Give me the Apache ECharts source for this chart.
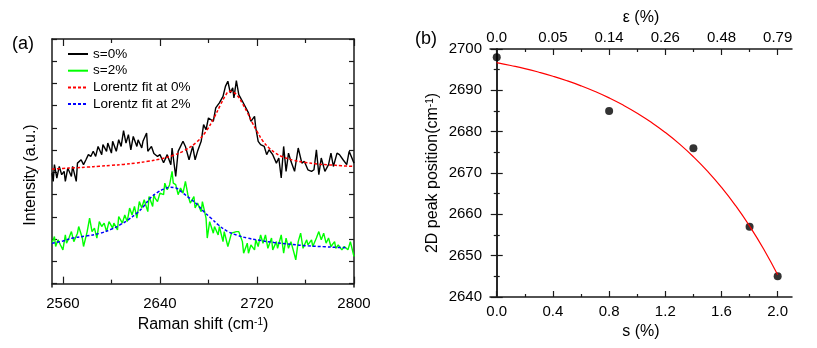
<!DOCTYPE html>
<html><head><meta charset="utf-8">
<script src="https://cdn.jsdelivr.net/npm/echarts@6/dist/echarts.min.js"></script>
<style>html,body{margin:0;padding:0;background:#fff}#c{width:817px;height:348px}</style>
</head><body><div id="c"></div>
<script>
// ---------- Panel (a): Raman spectra ----------
const ramanX0 = [2551,2552,2553,2555,2557,2559,2561,2562,2564,2567,2568,2571,2572,2575,2577,2579,2581,2583,2585,2587,2589,2592,2593,2596,2597,2600,2601,2604,2606,2608,2610,2612,2614,2616,2618,2621,2622,2625,2626,2629,2630,2633,2635,2638,2640,2643,2646,2649,2650,2653,2655,2659,2661,2664,2667,2669,2671,2674,2676,2678,2680,2684,2686,2689,2692,2694,2696,2698,2700,2701,2703,2705,2708,2709,2713,2715,2718,2719,2721,2723,2726,2728,2730,2733,2736,2738,2740,2742,2744,2746,2748,2751,2754,2757,2759,2762,2765,2767,2769,2771,2773,2776,2779,2781,2783,2786,2788,2791,2794,2796,2800];
const intensity0 = [4.97,4.6,5.35,4.75,5.27,4.9,5.05,4.6,5.2,4.82,5.27,4.6,5.42,5.57,5.35,5.57,5.8,5.72,5.95,5.72,6.17,5.8,6.25,5.95,6.32,5.87,6.4,5.95,6.47,6.17,6.88,6.32,6.7,6.02,6.62,6.17,6.47,6.1,6.4,6.77,5.95,6.17,5.85,5.72,5.8,5.44,5.8,5.35,6.1,4.82,5.95,6.4,6.17,5.57,6.17,5.57,5.95,6.4,7.15,6.92,7.45,7.3,7.9,8.13,8.42,8.87,9.1,8.58,8.8,8.35,9.13,8.5,8.2,8.27,7.68,7.3,7.52,7.0,6.4,6.25,6.17,5.8,6.02,5.8,5.42,5.65,4.75,6.17,5.05,5.87,5.5,5.05,6.1,5.42,5.5,5.12,5.05,5.12,6.02,4.9,5.65,5.05,5.35,5.87,5.27,5.87,5.8,5.57,5.35,5.95,5.42];

const ramanX2 = [2551,2553,2554,2556,2558,2560,2562,2563,2565,2567,2569,2572,2573,2576,2577,2580,2582,2584,2586,2588,2590,2592,2594,2596,2598,2601,2602,2605,2606,2609,2611,2613,2615,2617,2619,2621,2623,2625,2627,2630,2631,2634,2635,
  2636,2638,2640,2643,2644,2646,2648,2650,2651,2653,2655,2657,2659,2661,2663,2665,2668,2669,2671,2674,2675,2678,2679,2681,2684,2685,2688,2689,2692,2693,2696,2699,2703,2705,2708,2709,2712,2713,
  2715,2718,2719,2721,2723,2725,2727,2729,2732,2733,2736,2737,2740,2742,2744,2746,2748,2751,2752,2754,2756,2758,2761,2762,2765,2766,2769,2771,2773,2775,2777,2779,2781,2784,2785,2787,2790,2792,2795,2797,2800];
const intensity2 = [1.82,2.12,1.67,1.97,1.74,1.52,2.19,1.82,2.05,2.34,1.89,2.27,2.57,2.05,1.67,2.34,2.95,2.34,2.5,2.05,2.79,2.57,2.72,2.34,2.79,2.5,2.72,2.42,3.02,2.72,3.09,2.79,3.4,3.09,3.47,2.95,3.69,3.4,3.77,3.24,3.92,3.47,4.0,
  3.85,3.69,4.07,4.0,4.52,4.22,4.45,5.05,4.52,4.45,4.0,4.3,4.07,4.6,4.0,3.62,3.92,3.4,3.62,3.24,3.69,2.95,2.05,2.79,2.27,2.57,2.19,2.57,1.89,2.34,1.67,2.27,2.34,2.34,1.89,1.37,1.82,1.37,
  1.74,1.52,1.97,1.67,2.19,1.82,2.19,1.59,2.05,1.52,1.89,1.59,2.19,1.37,2.05,1.59,1.89,1.29,1.07,1.89,2.27,1.59,1.97,1.74,1.97,1.67,2.05,2.34,1.97,2.27,1.82,2.05,1.67,1.89,1.59,1.74,1.52,1.67,1.52,1.89,1.22];

const fitX0 = [2551,2560,2570,2580,2590,2600,2610,2620,2630,2640,2650,2660,2670,2678,2685,2690,2694,2697,2700,2704,2708,2712,2716,2720,2725,2730,2735,2740,2750,2760,2770,2780,2790,2800];
const fit0  = [5.15,5.18,5.21,5.24,5.28,5.32,5.36,5.42,5.50,5.60,5.75,5.98,6.35,6.85,7.5,8.05,8.45,8.65,8.62,8.45,8.1,7.7,7.25,6.85,6.4,6.1,5.88,5.73,5.55,5.45,5.38,5.34,5.3,5.27];

const fitX2 = [2551,2560,2568,2580,2591,2600,2607,2614,2621,2627,2632,2638,2643,2648,2652,2655,2659,2665,2671,2676,2682,2688,2696,2704,2712,2722,2734,2748,2762,2776,2786,2793];
const fit2  = [1.82,1.92,2.05,2.15,2.27,2.45,2.64,2.88,3.17,3.5,3.85,4.1,4.25,4.33,4.32,4.25,4.07,3.82,3.55,3.25,2.95,2.65,2.34,2.17,2.05,1.95,1.85,1.77,1.7,1.66,1.63,1.62];

const ramanTicks = [2560,2640,2720,2800];
const ramanMinorTicks = [2600,2680,2760];
const intensityTicks = [0,1,2,3,4,5,6,7,8,9,10,11];
const legendNames = ['s=0%','s=2%','Lorentz fit at 0%','Lorentz fit at 2%'];

// ---------- Panel (b): 2D peak position vs strain ----------
const strainS = [0.0,0.8,1.4,1.8,2.0];
const peakPos = [2698,2685,2676,2657,2645];
const fitS   = [0,0.1,0.2,0.3,0.4,0.5,0.6,0.7,0.8,0.9,1.0,1.1,1.2,1.3,1.4,1.5,1.6,1.7,1.8,1.9,2.0];
const fitPos = [2696.7,2696.0,2695.25,2694.38,2693.41,2692.32,2691.09,2689.71,2688.17,2686.43,2684.47,2682.28,2679.82,2677.05,2673.94,2670.45,2666.53,2662.12,2657.17,2651.62,2645.36];
const sTicks = [0,0.4,0.8,1.2,1.6,2.0];
const sMinorTicks = [0.2,0.6,1.0,1.4,1.8];
const epsLabels = ['0.0','0.05','0.14','0.26','0.48','0.79'];

// ---------- chart ----------
const FONT = '"Liberation Sans", Arial, sans-serif';
const AX = '#1a1a1a';
const pairs = (xs, ys) => xs.map((x, i) => [x, ys[i]]);
const supRich = { sup: { fontSize: 10, verticalAlign: 'top', fontFamily: FONT, color: '#000', lineHeight: 10 } };
const nameStyle = { fontSize: 16, fontFamily: FONT, color: '#000', rich: supRich };
const lbl = (extra) => Object.assign({ fontSize: 15, fontFamily: FONT, color: '#000' }, extra);
const line = { lineStyle: { color: AX, width: 1.5 } };

function tickAxis(base, ticks, len, showLine) {
  return Object.assign({
    type: 'value', splitLine: { show: false },
    axisLine: showLine ? line : { show: false },
    axisTick: { show: true, inside: true, length: len, customValues: ticks, lineStyle: { color: AX, width: 1.2 } },
    axisLabel: { show: false }
  }, base);
}

const chart = echarts.init(document.getElementById('c'));
chart.setOption({
  animation: false,
  backgroundColor: '#fff',
  grid: [
    { left: 52, top: 39, width: 302, height: 248, outerBoundsMode: 'none' },
    { left: 490, top: 49, width: 302, height: 248, outerBoundsMode: 'none' }
  ],
  legend: {
    data: legendNames, orient: 'vertical', left: 67, top: 47, padding: 0,
    itemWidth: 20, itemHeight: 14, itemGap: 2.7,
    itemStyle: { color: 'rgba(0,0,0,0)', borderColor: 'rgba(0,0,0,0)', borderWidth: 0, opacity: 0 },
    textStyle: { fontSize: 13.5, fontFamily: FONT, color: '#000' }
  },
  graphic: [
    { type: 'text', left: 12, top: 35, style: { text: '(a)', fontSize: 18, fontFamily: FONT, fill: '#000' } },
    { type: 'text', left: 415, top: 30, style: { text: '(b)', fontSize: 18, fontFamily: FONT, fill: '#000' } },
    { type: 'text', x: 31, y: 175, rotation: Math.PI / 2,
      style: { text: 'Intensity (a.u.)', fontSize: 16, fontFamily: FONT, fill: '#000', align: 'center', verticalAlign: 'middle' } }
  ],
  xAxis: [
    Object.assign(tickAxis({ gridIndex: 0, min: 2551, max: 2800, position: 'bottom',
      name: 'Raman shift (cm{sup|-1})', nameLocation: 'middle', nameGap: 30, nameTextStyle: nameStyle }, ramanTicks, 7, true),
      { axisLabel: lbl({ show: true, customValues: ramanTicks, margin: 9, formatter: v => String(v) }) }),
    tickAxis({ gridIndex: 0, min: 2551, max: 2800, position: 'bottom' }, ramanMinorTicks, 4, false),
    tickAxis({ gridIndex: 0, min: 2551, max: 2800, position: 'top' }, ramanTicks, 7, true),
    tickAxis({ gridIndex: 0, min: 2551, max: 2800, position: 'top' }, ramanMinorTicks, 4, false),
    Object.assign(tickAxis({ gridIndex: 1, min: -0.048, max: 2.102, position: 'bottom',
      name: 's (%)', nameLocation: 'middle', nameGap: 20, nameTextStyle: nameStyle }, sTicks, 6, true),
      { axisLabel: lbl({ show: true, customValues: sTicks, margin: 7, formatter: v => v.toFixed(1) }) }),
    tickAxis({ gridIndex: 1, min: -0.048, max: 2.102, position: 'bottom' }, sMinorTicks, 3, false),
    Object.assign(tickAxis({ gridIndex: 1, min: -0.048, max: 2.102, position: 'top',
      name: 'ε (%)', nameLocation: 'middle', nameGap: 21, nameTextStyle: nameStyle }, sTicks, 6, true),
      { axisLabel: lbl({ show: true, customValues: sTicks, margin: 4, formatter: v => epsLabels[Math.round(v / 0.4)] }) }),
    tickAxis({ gridIndex: 1, min: -0.048, max: 2.102, position: 'top' }, sMinorTicks, 3, false)
  ],
  yAxis: [
    tickAxis({ gridIndex: 0, min: -0.15, max: 11, position: 'left' }, intensityTicks, 5, true),
    tickAxis({ gridIndex: 0, min: -0.15, max: 11, position: 'right' }, intensityTicks, 5, true),
    {
      type: 'value', gridIndex: 1, min: 2640, max: 2700, interval: 10, position: 'left',
      name: '2D peak position(cm{sup|-1})', nameLocation: 'middle', nameGap: 49, nameTextStyle: nameStyle,
      axisLine: line, splitLine: { show: false },
      axisTick: { inside: true, length: 6, lineStyle: { color: AX, width: 1.2 } },
      minorTick: { show: true, splitNumber: 2, length: 3, lineStyle: { color: AX, width: 1.2 } },
      axisLabel: lbl({ margin: 8, formatter: v => String(v) })
    },
    {
      type: 'value', gridIndex: 1, min: 2640, max: 2700, interval: 10, position: 'right',
      axisLine: line, splitLine: { show: false },
      axisTick: { inside: true, length: 6, lineStyle: { color: AX, width: 1.2 } },
      minorTick: { show: true, splitNumber: 2, length: 3, lineStyle: { color: AX, width: 1.2 } },
      axisLabel: { show: false }
    }
  ],
  series: [
    { name: 's=0%', type: 'line', xAxisIndex: 0, yAxisIndex: 0, data: pairs(ramanX0, intensity0), symbol: 'none',
      lineStyle: { color: '#000', width: 1.4 }, itemStyle: { color: '#000' } },
    { name: 's=2%', type: 'line', xAxisIndex: 0, yAxisIndex: 0, data: pairs(ramanX2, intensity2), symbol: 'none',
      lineStyle: { color: '#00ff00', width: 1.4 }, itemStyle: { color: '#00ff00' } },
    { name: 'Lorentz fit at 0%', type: 'line', xAxisIndex: 0, yAxisIndex: 0, data: pairs(fitX0, fit0), symbol: 'none', smooth: 0.4,
      lineStyle: { color: '#ff0000', width: 1.5, type: [3, 2] }, itemStyle: { color: '#ff0000' } },
    { name: 'Lorentz fit at 2%', type: 'line', xAxisIndex: 0, yAxisIndex: 0, data: pairs(fitX2, fit2), symbol: 'none', smooth: 0.4,
      lineStyle: { color: '#0000ff', width: 1.5, type: [3, 2] }, itemStyle: { color: '#0000ff' } },
    { name: 'fit', type: 'line', xAxisIndex: 4, yAxisIndex: 2, data: pairs(fitS, fitPos), symbol: 'none', smooth: true,
      lineStyle: { color: '#ff0000', width: 1.2 }, itemStyle: { color: '#ff0000' } },
    { name: 'peak', type: 'scatter', xAxisIndex: 4, yAxisIndex: 2, data: pairs(strainS, peakPos), symbolSize: 8,
      itemStyle: { color: '#000' } }
  ]
});
</script></body></html>
